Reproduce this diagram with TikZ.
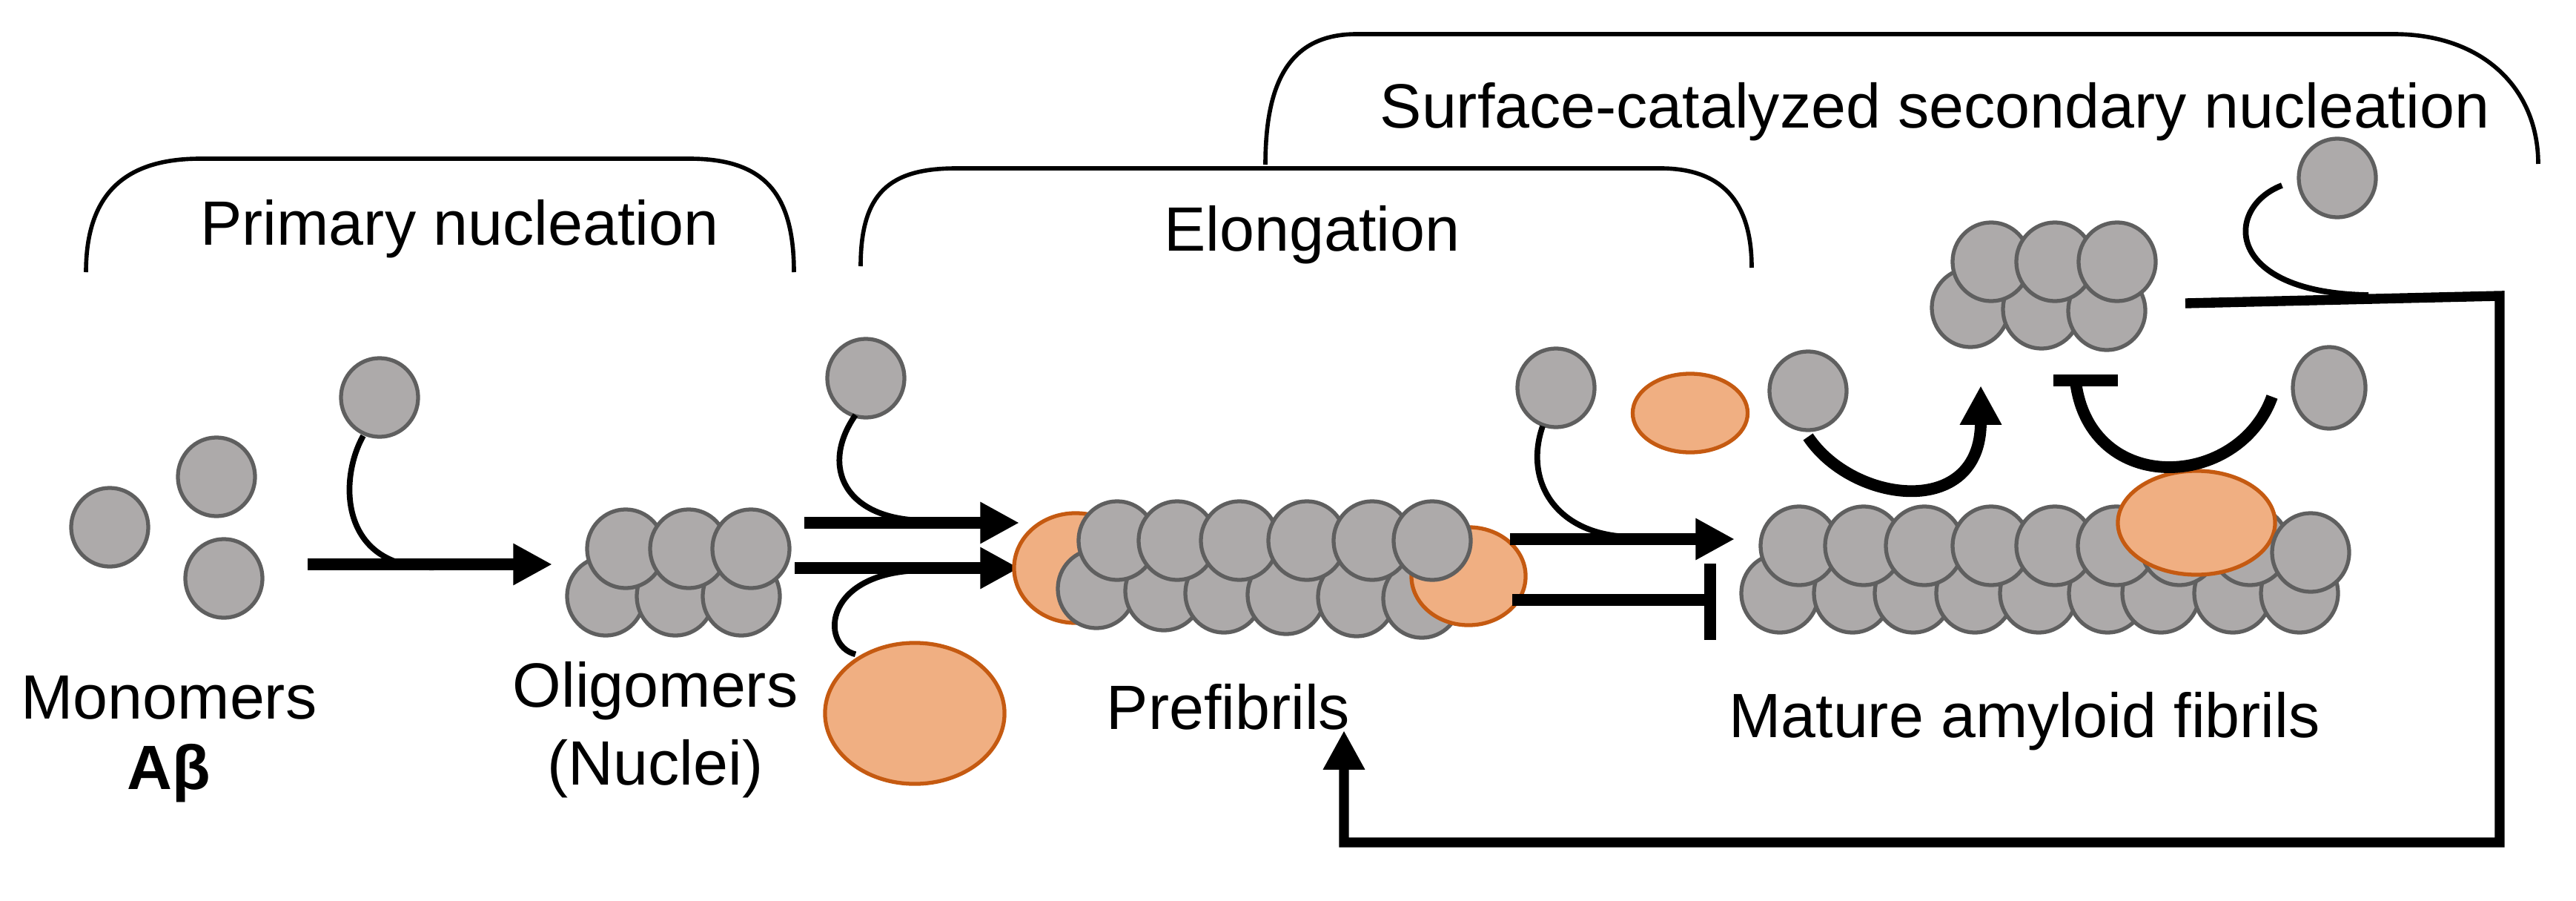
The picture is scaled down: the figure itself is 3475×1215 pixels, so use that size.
\documentclass[tikz,border=0pt]{standalone}
\usepackage{fontspec}
\setmainfont{Liberation Sans}
\usetikzlibrary{shapes.geometric,arrows.meta}
\definecolor{gfill}{HTML}{ADAAAA}
\definecolor{gline}{HTML}{5F5F5F}
\definecolor{ofill}{HTML}{F0AF82}
\definecolor{oline}{HTML}{C55A11}
\begin{document}
\begin{tikzpicture}[x=0.01cm,y=-0.01cm,
 mono/.style={ellipse,draw=gline,fill=gfill,line width=1.5pt,minimum width=1.04cm,minimum height=1.06cm,inner sep=0pt},
 orng/.style={ellipse,draw=oline,fill=ofill,line width=1.5pt,inner sep=0pt},
 lbl/.style={font=\fontsize{24}{28}\selectfont,inner sep=0pt},
 brk/.style={line width=1.6pt},
 thin/.style={line width=2.2pt},
 thick/.style={line width=4.5pt},
 tip/.style={-{Triangle[length=15pt,width=15pt]}}]
\useasboundingbox (0,0) rectangle (3475,1215);
% brackets
\draw[brk] (116,367) .. controls (116,260) and (170,214) .. (270,214) -- (930,214) .. controls (1030,214) and (1071,260) .. (1071,367);
\draw[brk] (1161,359) .. controls (1161,260) and (1200,227) .. (1290,227) -- (2240,227) .. controls (2330,227) and (2363,280) .. (2363,361);
\draw[brk] (1707,222) .. controls (1707,110) and (1740,46) .. (1830,46) -- (3229,46) .. controls (3350,46) and (3424,120) .. (3424,221);
\node[lbl] (tp) at (620,309) {Primary nucleation};
\node[lbl] (te) at (1770,317) {Elongation};
\node[lbl] (ts) at (2610,151) {Surface-catalyzed secondary nucleation};
% monomers
\node[mono] (m1) at (148,711) {};
\node[mono] (m2) at (292,643) {};
\node[mono] (m3) at (302,780) {};
\node[lbl] (tmon) at (228,941) {Monomers};
\node[lbl,font=\fontsize{24}{28}\selectfont\bfseries] (tab) at (228,1043) {Aβ};
\node[mono] (m4) at (512,536) {};
% primary arrow
\coordinate (a1s) at (415,761);
\coordinate (a1e) at (745,761);
\draw[thick,tip] (a1s) -- (a1e);
\draw[thin] (m4.south) ++(-22,-4) .. controls (455,650) and (460,770) .. (590,765);
% oligomers
\foreach \x/\n in {817/1,911/2,1000/3}{\node[mono] (ob\n) at (\x,804) {};}
\foreach \x/\n in {844/1,929/2,1013/3}{\node[mono] (ot\n) at (\x,740) {};}
\node[lbl] (tol) at (884,932) {Oligomers};
\node[lbl] (tnu) at (884,1037) {(Nuclei)};
% elongation arrows
\coordinate (a2s) at (1085,705); \coordinate (a2e) at (1375,705);
\coordinate (a3s) at (1072,766); \coordinate (a3e) at (1375,766);
\draw[thick,tip] (a2s) -- (a2e);
\draw[thick,tip] (a3s) -- (a3e);
\node[mono] (m5) at (1168,510) {};
\draw[thin] (m5.south) ++(-14,-6) .. controls (1105,630) and (1140,702) .. (1250,702);
\node[orng,minimum width=2.42cm,minimum height=1.9cm] (o1) at (1234,962) {};
\draw[thin] (o1.north) ++(-80,18) .. controls (1105,870) and (1110,768) .. (1250,769);
% prefibrils
\node[orng,minimum width=1.66cm,minimum height=1.48cm] (po1) at (1451,766) {};
\foreach \x/\y/\n in {1479/794/1,1570/797/2,1651/800/3,1735/802/4,1830/805/5,1918/807/6}{\node[mono] (pb\n) at (\x,\y) {};}
\node[orng,minimum width=1.54cm,minimum height=1.32cm] (po2) at (1981,777) {};
\foreach \x/\n in {1507/1,1588/2,1672/3,1763/4,1851/5,1932/6}{\node[mono] (pt\n) at (\x,729) {};}
\node[lbl] (tpf) at (1657,953) {Prefibrils};
% to mature
\coordinate (a4s) at (2037,727); \coordinate (a4e) at (2340,727);
\draw[thick,tip] (a4s) -- (a4e);
\node[mono] (m6) at (2099,523) {};
\draw[thin] (m6.south) ++(-18,-4) .. controls (2055,650) and (2100,722) .. (2200,724);
\node[orng,minimum width=1.55cm,minimum height=1.06cm] (o2) at (2280,557) {};
\coordinate (b1s) at (2040,809); \coordinate (b1e) at (2307,809);
\draw[thick] (b1s) -- (b1e);
\draw[thick] (2307,760) -- (2307,863);
% mature fibrils
\foreach \x/\n in {2401/1,2499/2,2581/3,2664/4,2750/5,2843/6,2915/7,3012/8,3102/9}{\node[mono] (fb\n) at (\x,800) {};}
\foreach \x/\n in {2427/1,2514/2,2596/3,2686/4,2772/5,2855/6,2940/7,3035/8}{\node[mono] (ft\n) at (\x,736) {};}
\node[orng,minimum width=2.12cm,minimum height=1.4cm] (o3) at (2963,705) {};
\node[mono] (ft9) at (3117,745) {};
\node[lbl] (tmf) at (2731,973) {Mature amyloid fibrils};
% secondary oligomer
\foreach \x/\y/\n in {2658/415/1,2754/417/2,2842/419/3}{\node[mono] (sb\n) at (\x,\y) {};}
\foreach \x/\n in {2686/1,2772/2,2856/3}{\node[mono] (st\n) at (\x,353) {};}
\node[mono] (m7) at (2439,527) {};
\node[mono,minimum width=0.98cm,minimum height=1.1cm] (m8) at (3142,523) {};
\node[mono] (m9) at (3153,240) {};
\coordinate (c1s) at (2439,589);
\coordinate (c1e) at (2672,520);
\draw[thick,tip] (c1s) .. controls (2500,680) and (2672,700) .. (c1e);
\coordinate (c2s) at (3065,535);
\coordinate (c2e) at (2800,515);
\draw[thick] (c2s) .. controls (3020,660) and (2820,670) .. (c2e);
\draw[thick] (2770,513) -- (2857,513);
% feedback
\coordinate (f0) at (2948,409);
\coordinate (f1) at (3372,399);
\coordinate (f2) at (3372,1136);
\coordinate (f3) at (1813,1136);
\coordinate (f4) at (1813,985);
\draw[line width=3.8pt,tip] (f0) -- (f1) -- (f2) -- (f3) -- (f4);
\draw[thin] (m9.west) ++(-20,10) .. controls (3000,280) and (3000,395) .. (3195,398);
\end{tikzpicture}
\end{document}
